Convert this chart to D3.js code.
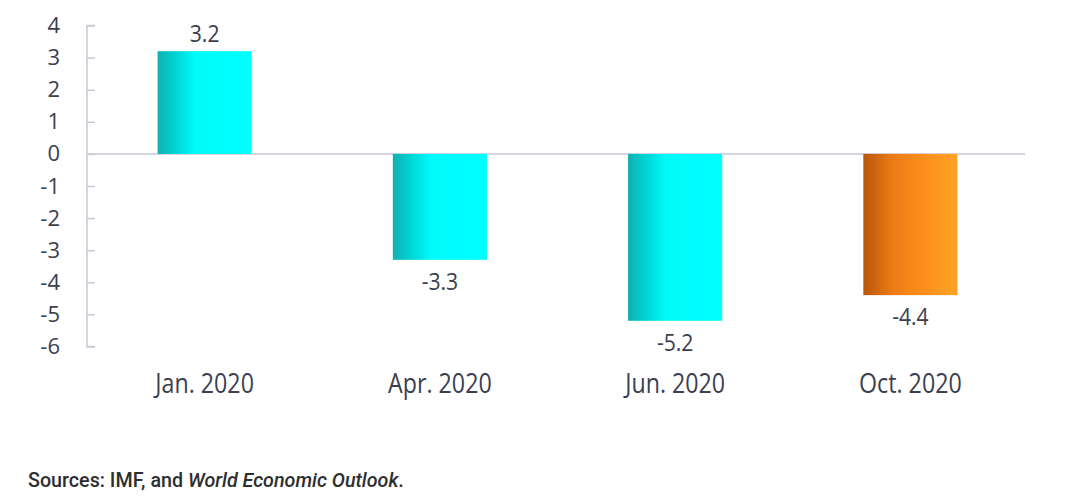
<!DOCTYPE html>
<html>
<head>
<meta charset="utf-8">
<script src="https://cdn.jsdelivr.net/npm/d3@7"></script>
<style>
  body { margin: 0; background: #fff; }
  svg { display: block; }
</style>
</head>
<body>
<div id="chart"></div>
<script>
// chart data
var categories = ["Jan. 2020", "Apr. 2020", "Jun. 2020", "Oct. 2020"];
var values = [3.2, -3.3, -5.2, -4.4];
var highlight = [false, false, false, true];
var yTicks = [4, 3, 2, 1, 0, -1, -2, -3, -4, -5, -6];
var sourceNote = ["Sources: IMF, and ", "World Economic Outlook", "."];

var width = 1080;
var height = 497;
var textColor = "#3a4050";
var axisColor = "#c9c9d6";

var svg = d3.select("#chart")
    .append("svg")
    .attr("width", width)
    .attr("height", height);

// gradients for the bars
var defs = svg.append("defs");

var teal = defs.append("linearGradient")
    .attr("id", "teal")
    .attr("x1", "0%").attr("x2", "100%")
    .attr("y1", "0%").attr("y2", "0%");
teal.append("stop").attr("offset", "0%").attr("stop-color", "#10b0b0");
teal.append("stop").attr("offset", "20%").attr("stop-color", "#00d6d6");
teal.append("stop").attr("offset", "40%").attr("stop-color", "#00fafa");
teal.append("stop").attr("offset", "100%").attr("stop-color", "#00ffff");

var orange = defs.append("linearGradient")
    .attr("id", "orange")
    .attr("x1", "0%").attr("x2", "100%")
    .attr("y1", "0%").attr("y2", "0%");
orange.append("stop").attr("offset", "0%").attr("stop-color", "#b9560c");
orange.append("stop").attr("offset", "30%").attr("stop-color", "#ea7a14");
orange.append("stop").attr("offset", "60%").attr("stop-color", "#fb8d1a");
orange.append("stop").attr("offset", "100%").attr("stop-color", "#ffa326");

// scales
var x = d3.scaleBand()
    .domain(categories)
    .range([87, 1028])
    .paddingInner(0.6)
    .paddingOuter(0.3);

var y = d3.scaleLinear()
    .domain([-6, 4])
    .range([346.5, 25.5]);

// zero line
svg.append("line")
    .attr("x1", 87)
    .attr("x2", 1025)
    .attr("y1", y(0))
    .attr("y2", y(0))
    .attr("stroke", axisColor)
    .attr("stroke-width", 1.5);

// y axis with ticks pointing inward, plain hyphen for negatives
var yAxis = d3.axisRight(y)
    .tickValues(yTicks)
    .tickSize(8)
    .tickFormat(function(d) { return String(d); });

var gy = svg.append("g")
    .attr("transform", "translate(87,0)")
    .call(yAxis);

gy.select(".domain")
    .attr("stroke", axisColor)
    .attr("stroke-width", 1.5)
    .attr("d", "M8," + y(4) + "H0V" + y(-6) + "H8");
gy.selectAll(".tick line")
    .attr("stroke", axisColor)
    .attr("stroke-width", 1.5);
gy.selectAll(".tick text")
    .attr("x", -27)
    .attr("text-anchor", "end")
    .attr("fill", textColor)
    .style("font-family", "'Open Sans', sans-serif")
    .style("font-size", "22px");

// bars
svg.selectAll(".bar")
    .data(values)
    .enter()
    .append("rect")
    .attr("class", "bar")
    .attr("x", function(d, i) { return x(categories[i]); })
    .attr("width", x.bandwidth())
    .attr("y", function(d) { return y(Math.max(0, d)); })
    .attr("height", function(d) { return Math.abs(y(d) - y(0)); })
    .style("fill", function(d, i) { return highlight[i] ? "url(#orange)" : "url(#teal)"; });

// value labels
svg.selectAll(".val")
    .data(values)
    .enter()
    .append("text")
    .attr("class", "val")
    .attr("transform", function(d, i) {
        var cx = x(categories[i]) + x.bandwidth() / 2;
        var cy = d >= 0 ? y(d) - 9 : y(d) + 30;
        return "translate(" + cx + "," + cy + ") scale(0.88,1)";
    })
    .attr("text-anchor", "middle")
    .attr("fill", textColor)
    .style("font-family", "'Open Sans', sans-serif")
    .style("font-size", "24px")
    .text(function(d) { return d.toFixed(1); });

// category labels
svg.selectAll(".cat")
    .data(categories)
    .enter()
    .append("text")
    .attr("class", "cat")
    .attr("transform", function(d) {
        return "translate(" + (x(d) + x.bandwidth() / 2) + ",393) scale(0.86,1)";
    })
    .attr("text-anchor", "middle")
    .attr("fill", textColor)
    .style("font-family", "'Open Sans', sans-serif")
    .style("font-size", "27px")
    .text(function(d) { return d; });

// source note
var note = svg.append("text")
    .attr("x", 28)
    .attr("y", 487)
    .attr("fill", "#2e2e2e")
    .style("font-family", "Roboto, sans-serif")
    .style("font-size", "19.7px")
    .style("font-weight", "500");

note.selectAll("tspan")
    .data(sourceNote)
    .enter()
    .append("tspan")
    .style("font-style", function(d, i) { return i === 1 ? "italic" : "normal"; })
    .text(function(d) { return d; });
</script>
</body>
</html>
